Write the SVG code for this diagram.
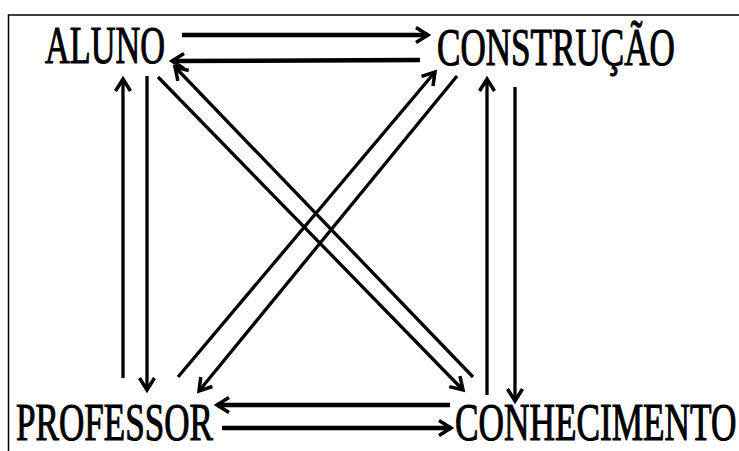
<svg xmlns="http://www.w3.org/2000/svg" width="739" height="451" viewBox="0 0 739 451">
<style>
.lbl{font-size:52px;fill:#000;stroke:#000;stroke-width:1.1}
.c{stroke:#000;fill:none;stroke-width:3.3}
.h{stroke-width:4.5}
</style>
<defs>
<marker id="ah" viewBox="0 0 20 20" refX="15" refY="10" markerWidth="20" markerHeight="20" markerUnits="userSpaceOnUse" orient="auto">
<path d="M3,2.5 L15,10 L3,17.5" fill="none" stroke="#000" stroke-width="3.5"/>
</marker>
</defs>
<rect width="739" height="451" fill="#fff"/>
<g id="frame" stroke="#000" stroke-width="1.5" fill="none">
<path d="M739,15 L8.5,15 L8.5,451"/>
</g>
<g font-family="Liberation Serif, Times New Roman, serif">
<g id="aluno" transform="translate(45,63) scale(0.67,1)"><text class="lbl" x="0" y="0" textLength="179" lengthAdjust="spacingAndGlyphs">ALUNO</text></g>
<g id="construcao" transform="translate(437,65) scale(0.67,1)"><text class="lbl" x="0" y="0" textLength="355" lengthAdjust="spacingAndGlyphs">CONSTRUÇÃO</text></g>
<g id="professor" transform="translate(16,440) scale(0.67,1)"><text class="lbl" x="0" y="0" textLength="294" lengthAdjust="spacingAndGlyphs">PROFESSOR</text></g>
<g id="conhecimento" transform="translate(455,440) scale(0.67,1)"><text class="lbl" x="0" y="0" textLength="420" lengthAdjust="spacingAndGlyphs">CONHECIMENTO</text></g>
</g>
<g id="connectors" class="c" marker-end="url(#ah)">
<path class="h" d="M182,35 L428,35"/>
<path class="h" d="M420,60 L172,61"/>
<path class="h" d="M450,405 L217,405"/>
<path class="h" d="M222,428 L451,428"/>
<path d="M123,378 L123,79"/>
<path d="M147,76 L147,390"/>
<path d="M487,395 L487,79"/>
<path d="M515,87 L515,401"/>
<path d="M158,77 L463,390"/>
<path d="M473,377 L175,67"/>
<path d="M178,377 L435,72"/>
<path d="M457,76 L199,391"/>
</g>
</svg>
